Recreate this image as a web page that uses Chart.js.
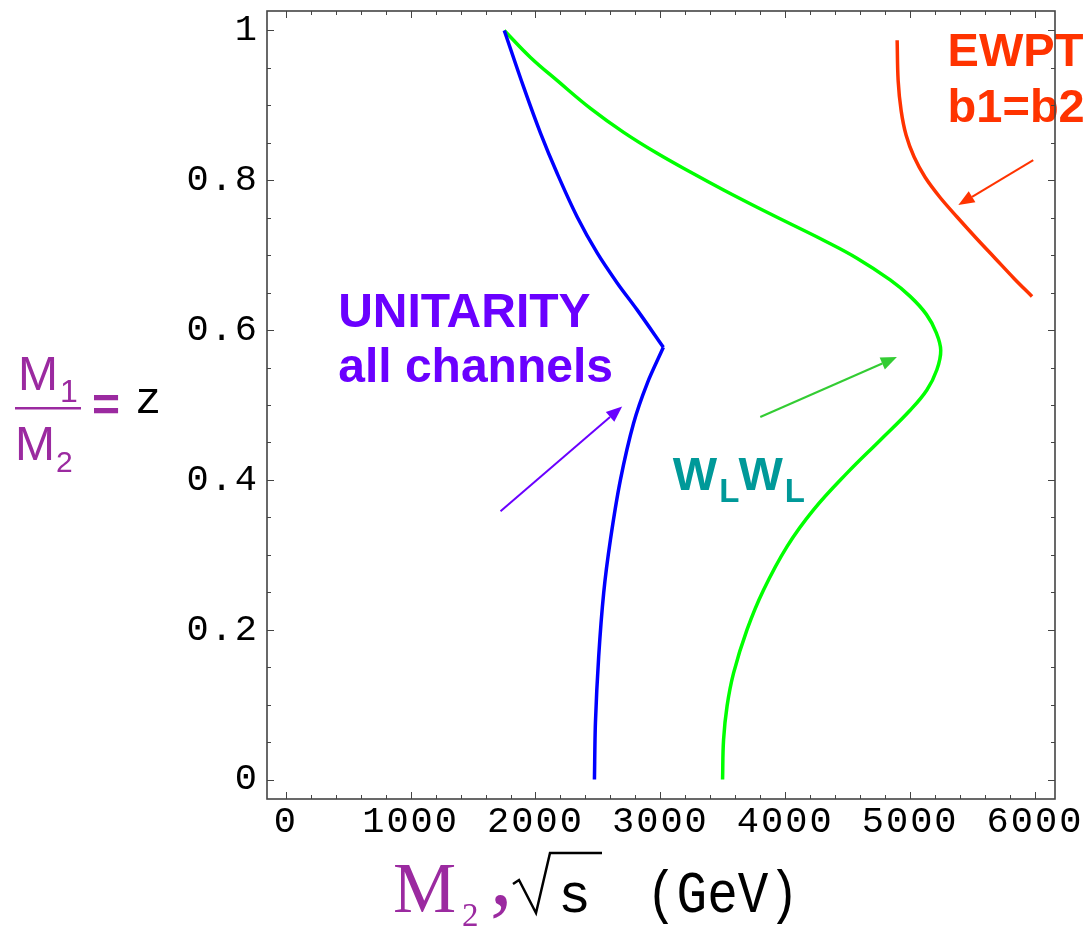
<!DOCTYPE html>
<html>
<head>
<meta charset="utf-8">
<title>Unitarity and EWPT bounds</title>
<script src="https://cdn.jsdelivr.net/npm/chart.js@4.4.1/dist/chart.umd.min.js"></script>
<style>
  html, body { margin: 0; padding: 0; background: #ffffff; }
  #wrap { width: 1086px; height: 928px; }
</style>
</head>
<body>
<div id="wrap"><canvas id="c" width="1086" height="928"></canvas></div>
<script>
// ---- series: [M2 or sqrt(s) in GeV, z = M1/M2] ----
const unitarityUpper = [
  [1750, 1.000], [1906, 0.924], [2040, 0.863], [2174, 0.809], [2334, 0.751],
  [2494, 0.703], [2654, 0.663], [2814, 0.627], [3024, 0.577]
];
const unitarityLower = [
  [3024, 0.577], [2895, 0.529], [2786, 0.476], [2680, 0.400], [2600, 0.320],
  [2546, 0.249], [2506, 0.164], [2480, 0.076], [2472, 0.000]
];
const wlwl = [
  [1750, 1.000], [1960, 0.964], [2175, 0.933], [2440, 0.896], [2706, 0.864],
  [2974, 0.836], [3240, 0.811], [3506, 0.787], [3774, 0.764], [4040, 0.742],
  [4306, 0.720], [4574, 0.696], [4840, 0.667], [5000, 0.645], [5130, 0.621],
  [5208, 0.597], [5245, 0.573], [5214, 0.547], [5134, 0.520], [5000, 0.493],
  [4760, 0.453], [4494, 0.409], [4226, 0.360], [4014, 0.311], [3826, 0.253],
  [3694, 0.200], [3586, 0.142], [3534, 0.098], [3506, 0.053], [3498, 0.000]
];
const ewpt = [
  [4896, 0.987], [4904, 0.933], [4928, 0.893], [4968, 0.860], [5032, 0.831],
  [5120, 0.804], [5240, 0.777], [5376, 0.751], [5528, 0.723], [5680, 0.696],
  [5832, 0.669], [5976, 0.645]
];

// ---- axes ----
const xTickValues = [0, 1000, 2000, 3000, 4000, 5000, 6000];
const xTickLabels = ['0', '1000', '2000', '3000', '4000', '5000', '6000'];
const xMinorStep = 200;
const yTickValues = [0, 0.2, 0.4, 0.6, 0.8, 1];
const yTickLabels = ['0', '0.2', '0.4', '0.6', '0.8', '1'];
const yMinorStep = 0.05;

// ---- pointer arrows, in data units ----
const arrowFrom = [[1720, 0.358], [3800, 0.484], [5986, 0.827]];
const arrowTo   = [[2694, 0.498], [4894, 0.564], [5386, 0.767]];

const PURPLE = '#9b2aa0';
const VIOLET = '#6a00ff';
const TEAL = '#009999';
const ORANGE = '#ff3300';
const arrowColors = [VIOLET, '#33cc33', ORANGE];

const toXY = arr => arr.map(p => ({ x: p[0], y: p[1] }));

function text(ctx, s, x, y, font, color, align) {
  ctx.font = font;
  ctx.fillStyle = color;
  ctx.textAlign = align || 'left';
  ctx.textBaseline = 'alphabetic';
  ctx.fillText(s, x, y);
}

function arrow(ctx, x0, y0, x1, y1, color) {
  const ang = Math.atan2(y1 - y0, x1 - x0);
  const L = 16, W = 6.5;
  const bx = x1 - L * Math.cos(ang), by = y1 - L * Math.sin(ang);
  ctx.strokeStyle = color;
  ctx.fillStyle = color;
  ctx.lineWidth = 2;
  ctx.beginPath();
  ctx.moveTo(x0, y0);
  ctx.lineTo(bx, by);
  ctx.stroke();
  ctx.beginPath();
  ctx.moveTo(x1, y1);
  ctx.lineTo(bx + W * Math.sin(ang), by - W * Math.cos(ang));
  ctx.lineTo(bx - W * Math.sin(ang), by + W * Math.cos(ang));
  ctx.closePath();
  ctx.fill();
}

const frameAndNotes = {
  id: 'frameAndNotes',
  beforeDraw(chart) { chart.ctx.letterSpacing = '2px'; },
  beforeDatasetsDraw(chart) { chart.ctx.letterSpacing = '0px'; },
  afterDatasetsDraw(chart) {
    const ctx = chart.ctx;
    const a = chart.chartArea;
    const xs = chart.scales.x, ys = chart.scales.y;
    const X = v => xs.getPixelForValue(v);
    const Y = v => ys.getPixelForValue(v);
    ctx.save();
    ctx.letterSpacing = '0px';

    // annotations
    const sans = '"Liberation Sans", Arial, sans-serif';
    text(ctx, 'UNITARITY', X(420), Y(0.604), 'bold 48px ' + sans, VIOLET);
    text(ctx, 'all channels', X(420), Y(0.531), 'bold 48px ' + sans, VIOLET);

    let wx = X(3100);
    const wy = Y(0.3867);
    ctx.font = 'bold 47px ' + sans;
    const wW = ctx.measureText('W').width;
    ctx.font = 'bold 33px ' + sans;
    const lW = ctx.measureText('L').width;
    text(ctx, 'W', wx, wy, 'bold 47px ' + sans, TEAL);
    text(ctx, 'L', wx + wW + 2, wy + 12, 'bold 33px ' + sans, TEAL);
    wx += wW + lW + 1;
    text(ctx, 'W', wx, wy, 'bold 47px ' + sans, TEAL);
    text(ctx, 'L', wx + wW + 2, wy + 12, 'bold 33px ' + sans, TEAL);

    text(ctx, 'EWPT', X(5300), Y(0.953), 'bold 47px ' + sans, ORANGE);
    text(ctx, 'b1=b2', X(5300), Y(0.878), 'bold 47px ' + sans, ORANGE);

    for (let i = 0; i < arrowFrom.length; i++) {
      arrow(ctx, X(arrowFrom[i][0]), Y(arrowFrom[i][1]), X(arrowTo[i][0]), Y(arrowTo[i][1]), arrowColors[i]);
    }

    // frame with inward ticks on all four sides
    ctx.strokeStyle = '#444';
    ctx.lineWidth = 1;
    ctx.beginPath();
    for (let v = 0; v <= xTickValues[xTickValues.length - 1] + 1e-9; v += xMinorStep) {
      const px = Math.round(X(v)) + 0.5;
      const len = Math.abs(v % 1000) < 1e-6 ? 7 : 4;
      ctx.moveTo(px, a.bottom); ctx.lineTo(px, a.bottom - len);
      ctx.moveTo(px, a.top); ctx.lineTo(px, a.top + len);
    }
    for (let i = 0; i <= 20; i++) {
      const v = i * yMinorStep;
      const py = Math.round(Y(v)) + 0.5;
      const len = i % 4 === 0 ? 7 : 4;
      ctx.moveTo(a.left, py); ctx.lineTo(a.left + len, py);
      ctx.moveTo(a.right, py); ctx.lineTo(a.right - len, py);
    }
    ctx.stroke();
    ctx.lineWidth = 1.6;
    ctx.strokeStyle = '#444';
    ctx.strokeRect(a.left, a.top, a.right - a.left, a.bottom - a.top);

    // y title: M1/M2 = z
    text(ctx, 'M', 18, 390, '48px ' + sans, PURPLE);
    text(ctx, '1', 60, 402, '32px ' + sans, PURPLE);
    ctx.fillStyle = PURPLE;
    ctx.fillRect(15, 407, 66, 2.5);
    text(ctx, 'M', 15, 460, '48px ' + sans, PURPLE);
    text(ctx, '2', 56, 472, '30px ' + sans, PURPLE);
    text(ctx, '=', 92, 421, 'bold 48px ' + sans, PURPLE);
    text(ctx, 'z', 135, 413, '44px "Liberation Mono", monospace', '#000');

    // x title: M2, sqrt(s) (GeV)
    const serif = '"Liberation Serif", "Times New Roman", serif';
    text(ctx, 'M', 393, 912, '71px ' + serif, PURPLE);
    text(ctx, '2', 462, 926, '33px ' + serif, PURPLE);
    text(ctx, ',', 490, 904, '90px ' + serif, PURPLE);
    ctx.strokeStyle = '#000';
    ctx.lineWidth = 2.5;
    ctx.lineJoin = 'miter';
    ctx.beginPath();
    ctx.moveTo(513, 884);
    ctx.lineTo(519, 880);
    ctx.lineTo(536, 913);
    ctx.lineTo(550, 853);
    ctx.lineTo(602, 853);
    ctx.stroke();
    text(ctx, 's', 558, 912, '55px "Liberation Mono", monospace', '#000');
    ctx.save();
    ctx.translate(646, 912);
    ctx.scale(0.85, 1);
    text(ctx, '(GeV)', 0, 0, '60px "Liberation Mono", monospace', '#000');
    ctx.restore();

    ctx.restore();
  }
};

const lineDs = (label, pts, color, tension) => ({
  label,
  data: toXY(pts),
  showLine: true,
  borderColor: color,
  backgroundColor: color,
  borderWidth: 3.5,
  pointRadius: 0,
  tension,
  fill: false
});

new Chart(document.getElementById('c'), {
  type: 'scatter',
  data: {
    datasets: [
      lineDs('Unitarity, all channels', unitarityUpper, '#0000ff', 0.35),
      lineDs('Unitarity, all channels (lower)', unitarityLower, '#0000ff', 0.3),
      lineDs('W_L W_L', wlwl, '#00ff00', 0.4),
      lineDs('EWPT b1=b2', ewpt, ORANGE, 0.35)
    ]
  },
  options: {
    responsive: false,
    animation: false,
    devicePixelRatio: 1,
    layout: { padding: { top: 11, right: 31, left: 0, bottom: 0 } },
    plugins: { legend: { display: false }, tooltip: { enabled: false } },
    scales: {
      x: {
        type: 'linear',
        position: 'bottom',
        min: -150,
        max: 6160,
        grid: { display: false, drawTicks: false },
        border: { display: false },
        afterBuildTicks: s => { s.ticks = xTickValues.map(v => ({ value: v })); },
        afterFit: s => { s.height = 129; s.paddingLeft = 0; s.paddingRight = 0; },
        ticks: {
          autoSkip: false,
          maxRotation: 0,
          padding: 1,
          color: '#000',
          font: { family: '"Liberation Mono", monospace', size: 37 },
          callback: (v, i) => xTickLabels[i]
        }
      },
      y: {
        type: 'linear',
        min: -0.026,
        max: 1.026,
        grid: { display: false, drawTicks: false },
        border: { display: false },
        afterBuildTicks: s => { s.ticks = yTickValues.map(v => ({ value: v })); },
        afterFit: s => { s.width = 267; s.paddingTop = 0; s.paddingBottom = 0; },
        ticks: {
          autoSkip: false,
          padding: 8,
          color: '#000',
          font: { family: '"Liberation Mono", monospace', size: 37 },
          callback: (v, i) => yTickLabels[i]
        }
      }
    }
  },
  plugins: [frameAndNotes]
});
</script>
</body>
</html>
